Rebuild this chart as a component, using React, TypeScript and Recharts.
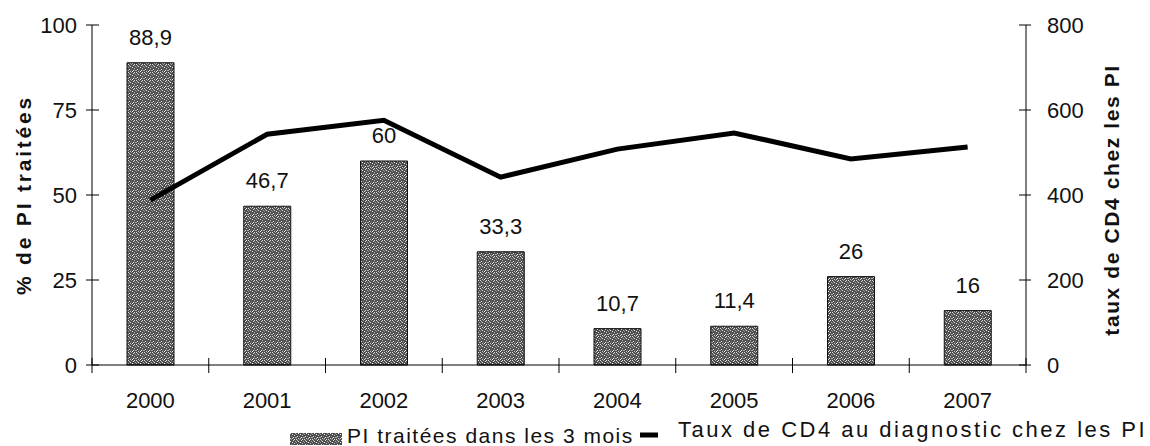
import React from "react";
import {
  Bar,
  ComposedChart,
  LabelList,
  Legend,
  Line,
  XAxis,
  YAxis,
} from "recharts";

const years = ["2000", "2001", "2002", "2003", "2004", "2005", "2006", "2007"];
const pctTreated = [88.9, 46.7, 60, 33.3, 10.7, 11.4, 26, 16];
const cd4Rate = [388, 543, 576, 442, 508, 546, 485, 513];
const leftTicks = [0, 25, 50, 75, 100];
const rightTicks = [0, 200, 400, 600, 800];

const data = years.map((year, i) => ({
  year,
  pct: pctTreated[i],
  cd4: cd4Rate[i],
}));

const FONT = "'Liberation Sans', Arial, Helvetica, sans-serif";

// speckle dots for the bar texture: [x, y, shade]
const specks: [number, number, string][] = [
  [0, 0, "#ddd"], [3, 0, "#999"], [6, 0, "#eee"], [1, 1, "#bbb"], [5, 1, "#ddd"],
  [2, 2, "#eee"], [7, 2, "#aaa"], [0, 3, "#999"], [4, 3, "#eee"], [6, 4, "#ccc"],
  [1, 5, "#ddd"], [3, 5, "#888"], [5, 6, "#eee"], [7, 6, "#bbb"], [2, 7, "#ccc"],
  [0, 6, "#aaa"], [4, 7, "#ddd"],
];

function YearTick(props: any) {
  const { x, y, payload, index, width, visibleTicksCount } = props;
  const half = width / visibleTicksCount / 2;
  const last = index === visibleTicksCount - 1;
  return (
    <g>
      <line x1={x - half} x2={x - half} y1={y - 7} y2={y + 8} stroke="#000" />
      {last && <line x1={x + half} x2={x + half} y1={y - 7} y2={y + 8} stroke="#000" />}
      <text x={x} y={y + 43} textAnchor="middle" fontSize={22} fill="#111" fontFamily={FONT}>
        {payload.value}
      </text>
    </g>
  );
}

function LeftTick(props: any) {
  const { x, y, payload } = props;
  const ax = x + 15;
  return (
    <g>
      <line x1={ax - 6} x2={ax + 7} y1={y} y2={y} stroke="#000" />
      <text x={x} y={y} dy="0.36em" textAnchor="end" fontSize={22} fill="#111" fontFamily={FONT}>
        {payload.value}
      </text>
    </g>
  );
}

function RightTick(props: any) {
  const { x, y, payload } = props;
  const ax = x - 21;
  return (
    <g>
      <line x1={ax - 7} x2={ax + 5} y1={y} y2={y} stroke="#000" />
      <text x={x} y={y} dy="0.36em" textAnchor="start" fontSize={22} fill="#111" fontFamily={FONT}>
        {payload.value}
      </text>
    </g>
  );
}

function LegendBox() {
  return (
    <svg width={1150} height={31} style={{ display: "block" }}>
      <rect x={290} y={18} width={52} height={12} fill="url(#speckle)" />
      <text x={347} y={28} fontSize={21} letterSpacing={1.5} fill="#111" fontFamily={FONT}>
        PI traitées dans les 3 mois
      </text>
      <line x1={640} x2={658} y1={20} y2={20} stroke="#000" strokeWidth={5} />
      <text x={678} y={22} fontSize={22} letterSpacing={2.5} fill="#111" fontFamily={FONT}>
        Taux de CD4 au diagnostic chez les PI
      </text>
    </svg>
  );
}

export default function App() {
  return (
    <div style={{ width: 1150, height: 446, background: "#fff" }}>
      <style>{`body{margin:0}`}</style>
      <ComposedChart
        width={1150}
        height={446}
        data={data}
        margin={{ top: 25, right: 0, bottom: 0, left: 0 }}
      >
        <defs>
          <pattern id="speckle" width={8} height={8} patternUnits="userSpaceOnUse">
            <rect width={8} height={8} fill="#4e4e4e" />
            {specks.map(([sx, sy, c], i) => (
              <rect key={i} x={sx} y={sy} width={1} height={1} fill={c} />
            ))}
          </pattern>
        </defs>
        <XAxis
          dataKey="year"
          height={50}
          axisLine={{ stroke: "#000" }}
          tickLine={false}
          tickSize={0}
          tickMargin={0}
          tick={<YearTick />}
        />
        <YAxis
          yAxisId="left"
          width={92}
          domain={[0, 100]}
          ticks={leftTicks}
          axisLine={{ stroke: "#000" }}
          tickLine={false}
          tickSize={6}
          tickMargin={9}
          tick={<LeftTick />}
          label={{
            content: ({ viewBox }: any) => {
              const cx = viewBox.x + 23;
              const cy = viewBox.y + viewBox.height / 2;
              return (
                <text
                  x={cx}
                  y={cy}
                  transform={`rotate(-90 ${cx} ${cy})`}
                  textAnchor="middle"
                  dominantBaseline="central"
                  fontSize={21}
                  fontWeight="bold"
                  letterSpacing={2.8}
                  fill="#111"
                  fontFamily={FONT}
                >
                  % de PI traitées
                </text>
              );
            },
          }}
        />
        <YAxis
          yAxisId="right"
          orientation="right"
          width={124}
          domain={[0, 800]}
          ticks={rightTicks}
          axisLine={{ stroke: "#000" }}
          tickLine={false}
          tickSize={6}
          tickMargin={15}
          tick={<RightTick />}
          label={{
            content: ({ viewBox }: any) => {
              const cx = viewBox.x + 85;
              const cy = viewBox.y + viewBox.height / 2 + 5;
              return (
                <text
                  x={cx}
                  y={cy}
                  transform={`rotate(-90 ${cx} ${cy})`}
                  textAnchor="middle"
                  dominantBaseline="central"
                  fontSize={21}
                  fontWeight="bold"
                  letterSpacing={1.6}
                  fill="#111"
                  fontFamily={FONT}
                >
                  taux de CD4 chez les PI
                </text>
              );
            },
          }}
        />
        <Legend
          verticalAlign="bottom"
          height={31}
          content={() => <LegendBox />}
          wrapperStyle={{ left: 0, width: 1150 }}
        />
        <Bar
          yAxisId="left"
          dataKey="pct"
          name="PI traitées dans les 3 mois"
          barSize={47}
          fill="url(#speckle)"
          stroke="#111"
          strokeWidth={1}
          isAnimationActive={false}
        >
          <LabelList
            dataKey="pct"
            position="top"
            offset={18}
            formatter={(v: any) => String(v).replace(".", ",")}
            style={{ fontSize: 22, fill: "#111", fontFamily: FONT }}
          />
        </Bar>
        <Line
          yAxisId="right"
          dataKey="cd4"
          name="Taux de CD4 au diagnostic chez les PI"
          type="linear"
          stroke="#000"
          strokeWidth={5}
          dot={false}
          activeDot={false}
          isAnimationActive={false}
        />
      </ComposedChart>
    </div>
  );
}
